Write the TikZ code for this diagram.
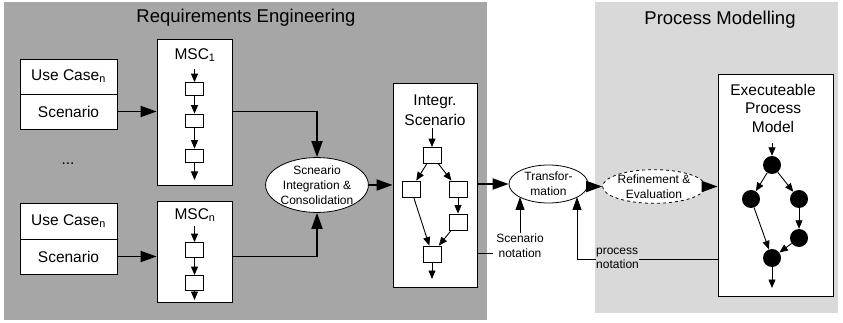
\documentclass[tikz,border=0pt]{standalone}
\usepackage{fontspec}
\setmainfont{Liberation Sans}
\usetikzlibrary{arrows.meta,shapes.geometric}
\definecolor{dgray}{RGB}{166,166,166}
\definecolor{lgray}{RGB}{217,217,217}
\begin{document}
\begin{tikzpicture}[x=1pt,y=-1pt,
  box/.style={draw,fill=white,line width=0.8pt,inner sep=0pt},
  sq/.style={draw,fill=white,line width=0.8pt,minimum width=18pt,minimum height=15pt,inner sep=0pt},
  dotc/.style={circle,fill=black,minimum size=18pt,inner sep=0pt},
  big/.style={font=\fontsize{15.5}{18.5}\selectfont,align=center,inner sep=0pt},
  small/.style={font=\fontsize{12}{15}\selectfont,align=center,inner sep=0pt},
  ttl/.style={font=\fontsize{18.5}{22}\selectfont,inner sep=0pt},
  thickarr/.style={line width=1.8pt,-{Triangle[length=16pt,width=11pt]}},
  medarr/.style={line width=0.9pt,-{Triangle[length=13pt,width=9pt]}},
  thinarr/.style={line width=0.9pt,-{Triangle[length=8.5pt,width=7pt]}},
  ell/.style={ellipse,draw,fill=white,line width=0.8pt,inner sep=0pt}]
\useasboundingbox (0,0) rectangle (843,323);
% backgrounds
\fill[dgray] (4,2) rectangle (487,320);
\fill[lgray] (595,2) rectangle (838,313);
\node[ttl] (t1) at (246,18) {Requirements Engineering};
\node[ttl] (t2) at (720,20) {Process Modelling};

% use case boxes
\node[box,minimum width=97pt,minimum height=35pt,font=\fontsize{15.5}{18}\selectfont] (uc1a) at (68.5,76.5) {Use Case\textsubscript{n}};
\node[box,minimum width=97pt,minimum height=35pt,font=\fontsize{15.5}{18}\selectfont] (uc1b) at (68.5,111.5) {Scenario};
\node[big] (dots) at (68,164) {...};
\node[box,minimum width=97pt,minimum height=36pt,font=\fontsize{15.5}{18}\selectfont] (ucna) at (68.5,221) {Use Case\textsubscript{n}};
\node[box,minimum width=97pt,minimum height=35pt,font=\fontsize{15.5}{18}\selectfont] (ucnb) at (68.5,256.5) {Scenario};

% MSC 1
\node[box,minimum width=75pt,minimum height=146pt] (msc1) at (194.5,112) {};
\node[big] (msc1l) at (195,55) {MSC\textsubscript{1}};
\node[sq,minimum height=13pt] (m1a) at (194.5,89) {};
\node[sq,minimum height=13pt] (m1b) at (194.5,120.5) {};
\node[sq,minimum height=13pt] (m1c) at (194.5,155.5) {};
\coordinate (m1in) at (194.5,69);
\coordinate (m1out) at (194.5,180);
\draw[thinarr] (m1in) -- (m1a);
\draw[thinarr] (m1a) -- (m1b);
\draw[thinarr] (m1b) -- (m1c);
\draw[thinarr] (m1c) -- (m1out);

% MSC n
\node[box,minimum width=75pt,minimum height=101pt] (mscn) at (194.5,251.5) {};
\node[big] (mscnl) at (195,215) {MSC\textsubscript{n}};
\node[sq] (mna) at (194.5,250) {};
\node[sq] (mnb) at (194.5,283) {};
\coordinate (mnin) at (194.5,226);
\coordinate (mnout) at (194.5,300);
\draw[thinarr] (mnin) -- (mna);
\draw[thinarr] (mna) -- (mnb);
\draw[thinarr] (mnb) -- (mnout);

% integration ellipse
\node[ell,minimum width=101pt,minimum height=54pt,small] (integ) at (317,185) {Scneario\\Integration \&\\Consolidation};

\draw[thickarr] (uc1b.east) -- (uc1b.east -| msc1.west);
\draw[thickarr] (ucnb.east) -- (ucnb.east -| mscn.west);
\draw[thickarr] (uc1b.east -| msc1.east) -| (integ.north);
\draw[thickarr] (ucnb.east -| mscn.east) -| (integ.south);

% integrated scenario box
\node[box,minimum width=84pt,minimum height=204pt] (isc) at (435,185) {};
\node[big,font=\fontsize{15.5}{20}\selectfont] (iscl) at (435,110) {Integr.\\Scenario};
\node[sq,minimum height=16pt] (ia) at (432,155.5) {};
\node[sq,minimum height=16pt] (ib) at (411,189) {};
\node[sq,minimum height=16pt] (ic) at (458,189) {};
\node[sq,minimum height=16pt] (id) at (458,222) {};
\node[sq,minimum height=16pt] (ie) at (432,254) {};
\coordinate (iin) at (432,128);
\coordinate (iout) at (432,279);
\draw[thinarr] (iin) -- (ia);
\draw[thinarr] (ia) -- (ib);
\draw[thinarr] (ia) -- (ic);
\draw[thinarr] (ib) -- (ie);
\draw[thinarr] (ic) -- (id);
\draw[thinarr] (id) -- (ie);
\draw[thinarr] (ie) -- (iout);
\draw[thickarr] (integ.east) -- (integ.east -| isc.west);

% transformation
\node[ell,minimum width=79pt,minimum height=38pt,small] (trans) at (548.5,184) {Transfor-\\mation};
\draw[thickarr] (isc.east |- trans.west) -- (trans.west);

% scenario notation
\node[small] (snot) at (520,245.5) {Scenario\\notation};
\coordinate (snotl) at (493,253);
\coordinate (tA) at (520,197);
\coordinate (tB) at (577,197);
\draw[line width=0.9pt] (isc.east |- snotl) -- (snotl);
\draw[medarr] (snot.north) -- (tA);

% refinement
\node[ell,dashed,minimum width=80pt,minimum height=33pt,small] (refi) at (654,186.5) {Refinement \&\\Evaluation};
\draw[thickarr] (trans.east |- refi.west) -- (refi.west);

% executable process model
\node[box,minimum width=115pt,minimum height=222pt] (exe) at (775.5,185) {};
\node[big] (exel) at (773,108) {Executeable\\Process\\Model};
\draw[thickarr] (refi.east) -- (refi.east -| exe.west);
\node[dotc] (ca) at (772,165) {};
\node[dotc] (cb) at (751,199) {};
\node[dotc] (cc) at (799,199) {};
\node[dotc] (cd) at (799,238) {};
\node[dotc] (ce) at (772,258) {};
\coordinate (cin) at (772,143);
\coordinate (cout) at (772,288);
\draw[thinarr] (cin) -- (ca);
\draw[thinarr] (ca) -- (cb);
\draw[thinarr] (ca) -- (cc);
\draw[thinarr] (cb) -- (ce);
\draw[thinarr] (cc) -- (cd);
\draw[thinarr] (cd) -- (ce);
\draw[thinarr] (ce) -- (cout);

% process notation
\coordinate (pcorner) at (577,259);
\draw[medarr] (pcorner -| exe.west) -- (pcorner) -- (tB);
\node[font=\fontsize{12}{13.5}\selectfont,align=left,fill=lgray,inner sep=0.5pt] (pnot) at (617.5,258.5) {process\\notation};
\end{tikzpicture}
\end{document}
